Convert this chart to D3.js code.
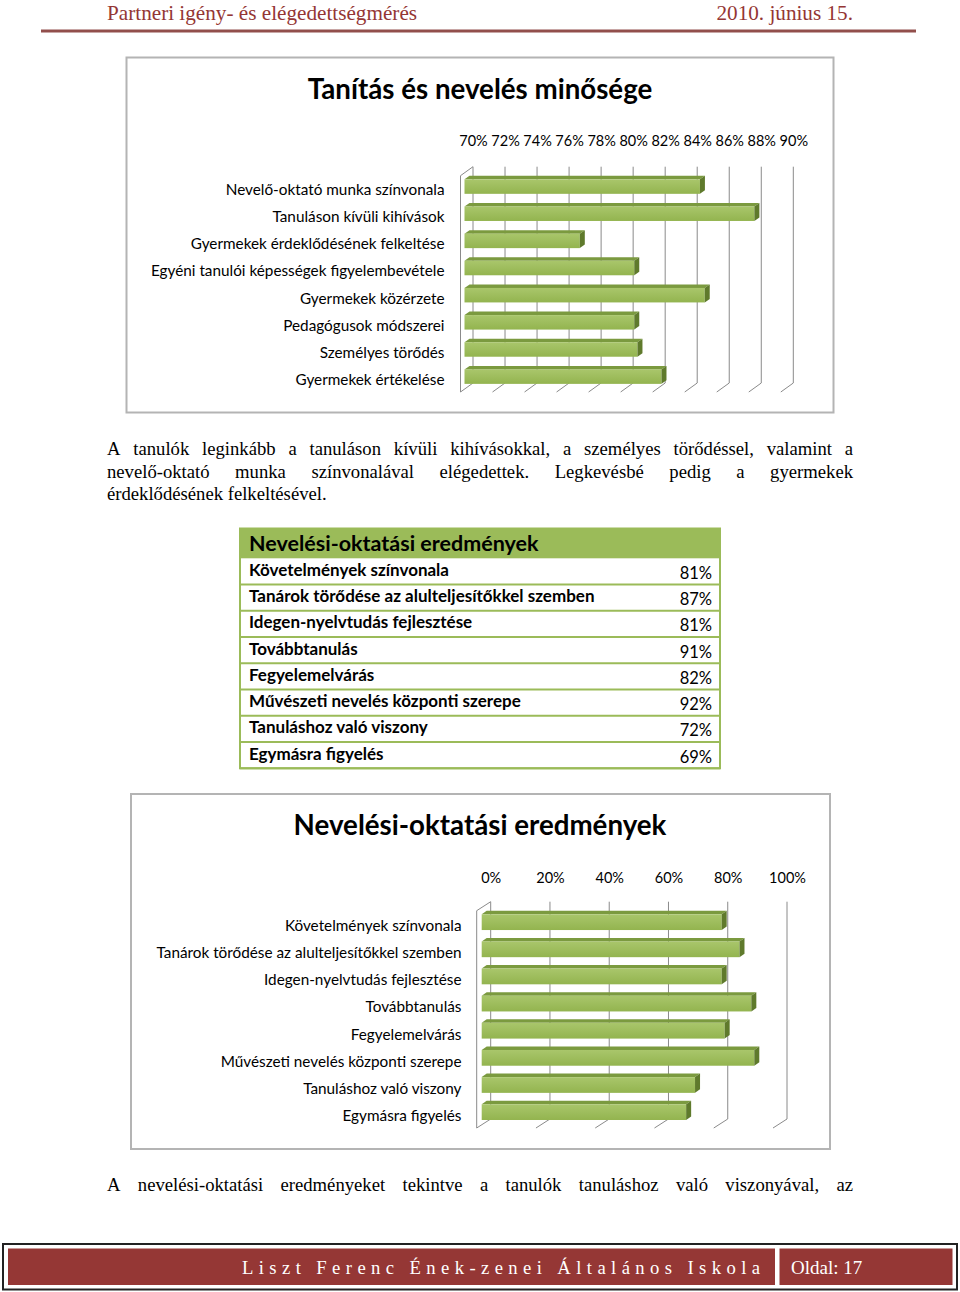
<!DOCTYPE html>
<html><head><meta charset="utf-8">
<script src="https://cdn.jsdelivr.net/npm/d3@7"></script>
<style>html,body{margin:0;padding:0;background:#fff;} svg{display:block;}</style>
</head><body><svg id="page" width="960" height="1292"></svg>
<script>
// ---------- DATA ----------
const headerLeft = "Partneri igény- és elégedettségmérés";
const headerRight = "2010. június 15.";

const chart1Title = "Tanítás és nevelés minősége";
const chart1Categories = [
  "Nevelő-oktató munka színvonala",
  "Tanuláson kívüli kihívások",
  "Gyermekek érdeklődésének felkeltése",
  "Egyéni tanulói képességek figyelembevétele",
  "Gyermekek közérzete",
  "Pedagógusok módszerei",
  "Személyes törődés",
  "Gyermekek értékelése"
];
const chart1Values = [84.7, 88.1, 77.2, 80.6, 85.0, 80.6, 80.8, 82.3];
const chart1Ticks = [70, 72, 74, 76, 78, 80, 82, 84, 86, 88, 90];

const paragraph1Lines = [
  "A tanulók leginkább a tanuláson kívüli kihívásokkal, a személyes törődéssel, valamint a",
  "nevelő-oktató munka színvonalával elégedettek. Legkevésbé pedig a gyermekek",
  "érdeklődésének felkeltésével."
];

const tableTitle = "Nevelési-oktatási eredmények";
const tableCategories = [
  "Követelmények színvonala",
  "Tanárok törődése az alulteljesítőkkel szemben",
  "Idegen-nyelvtudás fejlesztése",
  "Továbbtanulás",
  "Fegyelemelvárás",
  "Művészeti nevelés központi szerepe",
  "Tanuláshoz való viszony",
  "Egymásra figyelés"
];
const tableValues = [81, 87, 81, 91, 82, 92, 72, 69];

const chart2Title = "Nevelési-oktatási eredmények";
const chart2Categories = tableCategories;
const chart2Values = tableValues;
const chart2Ticks = [0, 20, 40, 60, 80, 100];

const paragraph2Lines = [
  "A nevelési-oktatási eredményeket tekintve a tanulók tanuláshoz való viszonyával, az"
];

const footerSchool = "Liszt Ferenc Ének-zenei Általános Iskola";
const footerPage = "Oldal: 17";

// ---------- DRAW ----------
const page = d3.select("#page");
const SANS = "Lato, 'Open Sans', sans-serif";
const SERIF = "'Liberation Serif', 'Times New Roman', serif";
const GREEN = "#9bbb59";

const defs = page.append("defs");
const grad = defs.append("linearGradient").attr("id", "barFront")
  .attr("x1", 0).attr("y1", 0).attr("x2", 0).attr("y2", 1);
grad.append("stop").attr("offset", "0%").attr("stop-color", "#a9c66b");
grad.append("stop").attr("offset", "100%").attr("stop-color", "#93b44f");

// header
page.append("text").attr("x", 107).attr("y", 19.5)
  .attr("font-family", SERIF).attr("font-size", 21.2).attr("fill", "#943634")
  .text(headerLeft);
page.append("text").attr("x", 853).attr("y", 19.5).attr("text-anchor", "end")
  .attr("font-family", SERIF).attr("font-size", 21.2).attr("fill", "#943634")
  .text(headerRight);
page.append("line").attr("x1", 41).attr("x2", 916).attr("y1", 31).attr("y2", 31)
  .attr("stroke", "#924f4c").attr("stroke-width", 3);

function draw3DBarChart(cfg) {
  const g = page.append("g");
  g.append("rect").attr("x", cfg.frame[0]).attr("y", cfg.frame[1])
    .attr("width", cfg.frame[2]).attr("height", cfg.frame[3])
    .attr("fill", "#fff").attr("stroke", "#b4b4b4").attr("stroke-width", 2);
  g.append("text").attr("x", cfg.titleX).attr("y", cfg.titleY)
    .attr("text-anchor", "middle").attr("font-family", SANS)
    .attr("font-weight", "bold").attr("font-size", cfg.titleSize).attr("fill", "#000")
    .text(cfg.title);

  const x = d3.scaleLinear().domain(cfg.domain).range(cfg.backX);
  const y = d3.scaleBand().domain(cfg.categories).range(cfg.bandRange)
    .paddingInner(cfg.padInner).paddingOuter(cfg.padInner / 2);
  const [dx, dy] = cfg.depth;
  const top = cfg.gridTop, bot = cfg.gridBottom;
  const x0 = x(cfg.domain[0]);

  // back gridlines + floor lines
  const grid = g.append("g").attr("stroke", "#8a8a8a").attr("stroke-width", 1).attr("fill", "none");
  cfg.ticks.forEach(t => {
    grid.append("line").attr("x1", x(t)).attr("x2", x(t)).attr("y1", top).attr("y2", bot);
    grid.append("line").attr("x1", x(t)).attr("x2", x(t) - dx).attr("y1", bot).attr("y2", bot - dy);
  });
  // left wall
  grid.append("path").attr("d",
    `M${x0},${top} L${x0 - dx},${top - dy} L${x0 - dx},${bot - dy}`);

  // top axis labels
  const ax = g.append("g").attr("transform", `translate(0,${cfg.tickY})`)
    .call(d3.axisTop(x).tickValues(cfg.ticks).tickFormat(d => d + "%").tickSize(0).tickPadding(0));
  ax.select(".domain").remove();
  ax.attr("font-family", SANS).attr("font-size", cfg.tickSize);
  ax.selectAll("text").attr("fill", "#000");

  // category labels
  const ay = g.append("g").attr("transform", `translate(${cfg.labelX},${cfg.labelDy})`)
    .call(d3.axisLeft(y).tickSize(0).tickPadding(0));
  ay.select(".domain").remove();
  ay.attr("font-family", SANS).attr("font-size", cfg.labelSize);
  ay.selectAll("text").attr("fill", "#000");

  // bars
  const [bdx, bdy] = cfg.barDepth;
  const bx0 = x0 - cfg.barOff;
  const bars = g.append("g");
  cfg.values.forEach((v, i) => {
    const yy = y(cfg.categories[i]);
    const h = y.bandwidth();
    const x1 = x(v) - cfg.barOff;
    bars.append("path").attr("fill", "#7b9a3f")
      .attr("d", `M${bx0},${yy} L${x1},${yy} L${x1 + bdx},${yy + bdy} L${bx0 + bdx},${yy + bdy} Z`);
    bars.append("rect").attr("x", bx0).attr("y", yy).attr("width", x1 - bx0).attr("height", h)
      .attr("fill", "url(#barFront)");
    bars.append("path").attr("fill", "#5f7a2c")
      .attr("d", `M${x1},${yy} L${x1 + bdx},${yy + bdy} L${x1 + bdx},${yy + h + bdy} L${x1},${yy + h} Z`);
  });
}

draw3DBarChart({
  frame: [126.5, 57.5, 707, 355],
  title: chart1Title, titleX: 480, titleY: 99, titleSize: 27.7,
  categories: chart1Categories, values: chart1Values, ticks: chart1Ticks,
  domain: [70, 90], backX: [473, 793.3],
  gridTop: 166.7, gridBottom: 383,
  bandRange: [173, 390.2], padInner: 0.466,
  depth: [12.5, -9], barDepth: [5, -3.5], barOff: 8.5,
  tickY: 146, tickSize: 14.5,
  labelX: 444.5, labelDy: 3.5, labelSize: 15.3
});

draw3DBarChart({
  frame: [131, 794, 699, 355],
  title: chart2Title, titleX: 480, titleY: 835, titleSize: 27.7,
  categories: chart2Categories, values: chart2Values, ticks: chart2Ticks,
  domain: [0, 100], backX: [490.7, 787],
  gridTop: 901.7, gridBottom: 1119,
  bandRange: [908.6, 1125.7], padInner: 0.42,
  depth: [14, -9], barDepth: [5, -3.5], barOff: 9,
  tickY: 883, tickSize: 14.5,
  labelX: 461.5, labelDy: 4, labelSize: 15.3
});

// justified text lines
function textLines(lines, x0, x1, y0, lh, size) {
  const t = page.append("text").attr("font-family", SERIF).attr("font-size", size).attr("fill", "#000");
  lines.forEach((line, li) => {
    const words = line.split(" ");
    const spans = words.map(w => t.append("tspan").attr("x", x0).attr("y", y0 + li * lh).text(w));
    const widths = spans.map(s => s.node().getComputedTextLength());
    const total = d3.sum(widths);
    const justify = li < lines.length - 1 || lines.length === 1;
    const gap = justify && words.length > 1 ? (x1 - x0 - total) / (words.length - 1) : size * 0.25;
    let cx = x0;
    spans.forEach((s, k) => { s.attr("x", cx); cx += widths[k] + gap; });
  });
}
textLines(paragraph1Lines, 107, 853, 455, 22.5, 18.67);
textLines(paragraph2Lines, 107, 853, 1191, 22.5, 18.67);

// table
(function () {
  const tx0 = 240, tx1 = 720, headTop = 528.5, headBot = 558.3, bodyBot = 768.3;
  const g = page.append("g");
  const rows = d3.scaleBand().domain(tableCategories).range([headBot, bodyBot]);
  g.append("rect").attr("x", tx0).attr("y", headTop).attr("width", tx1 - tx0).attr("height", headBot - headTop)
    .attr("fill", GREEN);
  g.append("text").attr("x", 249).attr("y", headTop + 22.5)
    .attr("font-family", SANS).attr("font-weight", "bold").attr("font-size", 21.5).attr("fill", "#000")
    .text(tableTitle);
  tableCategories.forEach((c, i) => {
    const ry = rows(c);
    g.append("line").attr("x1", tx0).attr("x2", tx1).attr("y1", ry + rows.bandwidth()).attr("y2", ry + rows.bandwidth())
      .attr("stroke", GREEN).attr("stroke-width", 2);
    g.append("text").attr("x", 249).attr("y", ry + 17.5)
      .attr("font-family", SANS).attr("font-weight", "bold").attr("font-size", 17).attr("fill", "#000")
      .text(c);
    g.append("text").attr("x", 712).attr("y", ry + 20.5).attr("text-anchor", "end")
      .attr("font-family", SANS).attr("font-size", 16.5).attr("fill", "#000")
      .text(tableValues[i] + "%");
  });
  g.append("rect").attr("x", tx0).attr("y", headTop).attr("width", tx1 - tx0).attr("height", bodyBot - headTop)
    .attr("fill", "none").attr("stroke", GREEN).attr("stroke-width", 2);
})();

// footer
page.append("rect").attr("x", 3).attr("y", 1244).attr("width", 954).attr("height", 45.5)
  .attr("fill", "none").attr("stroke", "#222").attr("stroke-width", 2);
page.append("rect").attr("x", 8).attr("y", 1248.5).attr("width", 767).attr("height", 36.5).attr("fill", "#953735");
page.append("rect").attr("x", 779.5).attr("y", 1248.5).attr("width", 173).attr("height", 36.5).attr("fill", "#953735");
page.append("text").attr("x", 242).attr("y", 1273.5)
  .attr("font-family", SERIF).attr("font-size", 18.67).attr("fill", "#fff")
  .attr("textLength", 518).attr("lengthAdjust", "spacing")
  .text(footerSchool);
page.append("text").attr("x", 791).attr("y", 1274)
  .attr("font-family", SERIF).attr("font-size", 19).attr("fill", "#fff")
  .text(footerPage);
</script></body></html>
